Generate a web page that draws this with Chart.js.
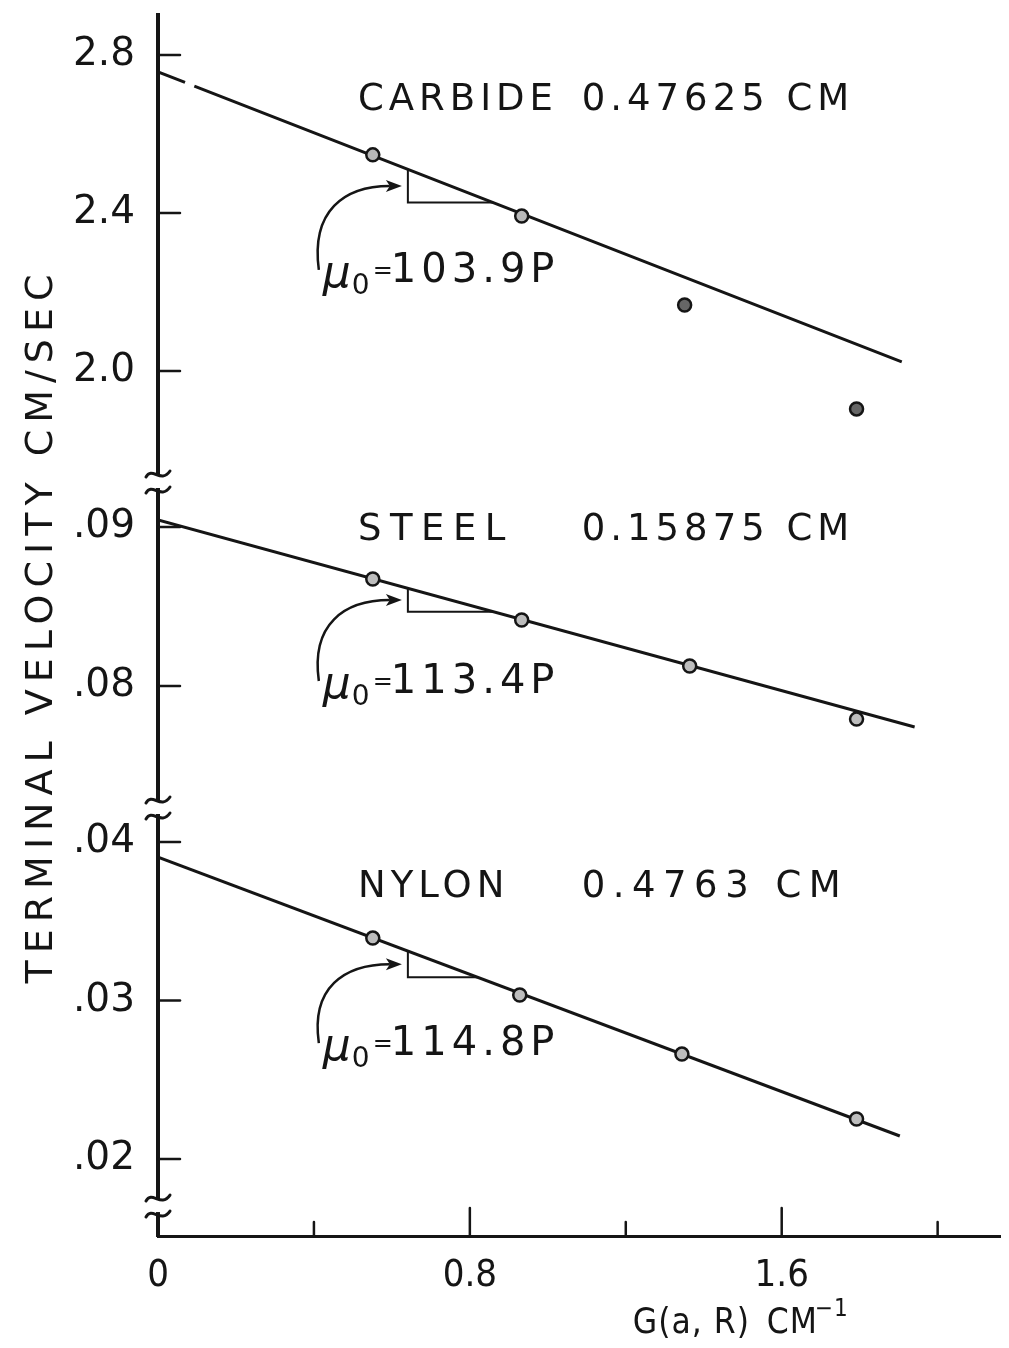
<!DOCTYPE html>
<html lang="en">
<head>
<meta charset="UTF-8">
<title>Terminal velocity vs G(a,R)</title>
<script src="https://cdn.jsdelivr.net/npm/chart.js"></script>
<style>
  html, body { margin: 0; padding: 0; background: #fff; }
  #wrap { width: 1009px; height: 1348px; }
</style>
</head>
<body>
<div id="wrap"><canvas id="velocityChart"></canvas></div>
<script>
// G(a,R) in 1/cm against terminal velocity in cm/sec
const carbideG = [0.551, 0.933, 1.351, 1.792];
const carbideV = [2.547, 2.392, 2.167, 1.904];
const carbideFitG = [0, 1.908];
const carbideFitV = [2.757, 2.023];

const steelG = [0.551, 0.933, 1.364, 1.792];
const steelV = [0.08673, 0.08415, 0.08126, 0.07792];
const steelFitG = [0, 1.941];
const steelFitV = [0.09044, 0.07742];

const nylonG = [0.551, 0.928, 1.344, 1.792];
const nylonV = [0.03394, 0.03035, 0.02662, 0.02252];
const nylonFitG = [0, 1.903];
const nylonFitV = [0.03905, 0.02145];

const xTicks = [0, 0.4, 0.8, 1.2, 1.6, 2.0];
const xTickLabels = ['0', '', '0.8', '', '1.6', ''];
const carbideTicks = [2.0, 2.4, 2.8];
const carbideTickLabels = ['2.0', '2.4', '2.8'];
const steelTicks = [0.08, 0.09];
const steelTickLabels = ['.08', '.09'];
const nylonTicks = [0.02, 0.03, 0.04];
const nylonTickLabels = ['.02', '.03', '.04'];

const materials = ['CARBIDE', 'STEEL', 'NYLON'];
const diameters = ['0.47625 CM', '0.15875 CM', '0.4763 CM'];
const viscosities = ['103.9P', '113.4P', '114.8P'];

const ink = '#151515';
const narrow = "'Liberation Sans Narrow', 'DejaVu Sans Condensed', 'DejaVu Sans'";
const pts = (xs, ys) => xs.map((x, i) => ({ x: x, y: ys[i] }));

const fit = (label, xs, ys, axis, dash) => ({
    label: label, data: pts(xs, ys), yAxisID: axis, showLine: true,
    borderColor: ink, borderWidth: 3, borderDash: dash || [], pointRadius: 0, order: 2
});
const dots = (label, xs, ys, axis, fill) => ({
    label: label, data: pts(xs, ys), yAxisID: axis,
    pointRadius: 6.5, pointBackgroundColor: fill, pointBorderColor: ink, pointBorderWidth: 2.5, order: 1
});

const noPad = s => { s.paddingTop = 0; s.paddingBottom = 0; s.paddingLeft = 0; s.paddingRight = 0; };

const yScale = (min, max, ticks, labels, weight, stackWeight) => ({
    type: 'linear', position: 'left', stack: 'v', stackWeight: stackWeight, weight: weight,
    min: min, max: max,
    afterBuildTicks: s => { s.ticks = ticks.map(v => ({ value: v })); },
    afterFit: s => { s.width = 158; noPad(s); },
    ticks: { callback: (v, i) => labels[i], color: ink, padding: 23, font: { family: 'DejaVu Sans', size: 39 } },
    grid: { display: false, drawTicks: false },
    border: { display: true, color: ink, width: 4 }
});

// hand-drawn bits: inward ticks, axis breaks, labels, slope triangles
const paperMarks = {
    id: 'paperMarks',
    afterDraw(chart) {
        const ctx = chart.ctx;
        const area = chart.chartArea;
        const sx = chart.scales.x;
        const yIds = ['yCarbide', 'ySteel', 'yNylon'];
        ctx.save();
        ctx.strokeStyle = ink;
        ctx.fillStyle = ink;
        ctx.lineCap = 'round';

        // inward ticks on the y axes
        ctx.lineWidth = 2.5;
        yIds.forEach(id => {
            const s = chart.scales[id];
            s.ticks.forEach(t => {
                const y = s.getPixelForValue(t.value);
                ctx.beginPath();
                ctx.moveTo(area.left, y);
                ctx.lineTo(area.left + 22, y);
                ctx.stroke();
            });
        });
        // inward ticks on the x axis
        sx.ticks.forEach((t, i) => {
            const x = sx.getPixelForValue(t.value);
            if (t.value === 0) return;
            const len = xTickLabels[i] ? 28 : 14;
            ctx.beginPath();
            ctx.moveTo(x, area.bottom);
            ctx.lineTo(x, area.bottom - len);
            ctx.stroke();
        });

        // axis breaks
        const breaks = [
            chart.scales.yCarbide.bottom,
            chart.scales.ySteel.bottom,
            chart.scales.yNylon.getPixelForValue(0.01703)
        ];
        breaks.forEach(yb => {
            const x = area.left;
            ctx.fillStyle = '#fff';
            ctx.fillRect(x - 4, yb - 6, 8, 12);
            ctx.fillStyle = ink;
            ctx.lineWidth = 3;
            [-8, 8].forEach(dy => {
                const y = yb + dy;
                ctx.beginPath();
                ctx.moveTo(x - 12, y + 3);
                ctx.bezierCurveTo(x - 6, y - 8, x + 3, y + 10, x + 12, y - 3);
                ctx.stroke();
            });
        });

        // y axis title
        ctx.save();
        ctx.translate(42, (area.top + area.bottom) / 2);
        ctx.rotate(-Math.PI / 2);
        ctx.font = "38px 'DejaVu Sans'";
        ctx.letterSpacing = '7px';
        ctx.textAlign = 'center';
        ctx.textBaseline = 'middle';
        ctx.fillText('TERMINAL VELOCITY CM/SEC', 0, 0);
        ctx.restore();

        // x axis title, set right of centre as in the original
        const tx = sx.getPixelForValue(1.218);
        const ty = area.bottom + 88;
        ctx.textAlign = 'left';
        ctx.textBaseline = 'middle';
        ctx.letterSpacing = '1px';
        ctx.font = '35px ' + narrow;
        ctx.fillText('G(a, R)', tx, ty);
        ctx.fillText('CM', tx + 134, ty);
        ctx.font = '24px ' + narrow;
        ctx.fillText('\u2212' + '1', tx + 182, ty - 14);
        ctx.letterSpacing = '0px';

        // material labels and viscosity notes
        const nameY = [2.684, 0.0898, 0.03716];
        const muY = [2.251, 0.08019, 0.02719];
        const triEnd = [0.86, 0.86, 0.82];
        const nameGap = [5, 8.5, 5];
        const sizeGap = [5, 5, 7.5];
        const fits = [[carbideFitG, carbideFitV], [steelFitG, steelFitV], [nylonFitG, nylonFitV]];
        yIds.forEach((id, k) => {
            const s = chart.scales[id];
            const fg = fits[k][0], fv = fits[k][1];
            const lineAt = g => fv[0] + (fv[1] - fv[0]) * (g - fg[0]) / (fg[1] - fg[0]);

            ctx.font = "37px 'DejaVu Sans'";
            ctx.textAlign = 'left';
            ctx.textBaseline = 'middle';
            ctx.letterSpacing = nameGap[k] + 'px';
            ctx.fillText(materials[k], sx.getPixelForValue(0.513), s.getPixelForValue(nameY[k]));
            ctx.letterSpacing = sizeGap[k] + 'px';
            ctx.fillText(diameters[k], sx.getPixelForValue(1.087), s.getPixelForValue(nameY[k]));

            // slope triangle
            const x1 = sx.getPixelForValue(0.641);
            const x2 = sx.getPixelForValue(triEnd[k]);
            const yTop = s.getPixelForValue(lineAt(0.641));
            const yBot = s.getPixelForValue(lineAt(triEnd[k]));
            ctx.lineWidth = 2;
            ctx.lineCap = 'butt';
            ctx.beginPath();
            ctx.moveTo(x1, yTop);
            ctx.lineTo(x1, yBot);
            ctx.lineTo(x2, yBot);
            ctx.stroke();

            // mu label
            const bx = sx.getPixelForValue(0.428);
            const cy = s.getPixelForValue(muY[k]);
            ctx.letterSpacing = '0px';
            ctx.textBaseline = 'alphabetic';
            ctx.font = "italic 44px 'DejaVu Sans'";
            ctx.fillText('\u03bc', bx - 2, cy + 15);
            ctx.font = "28px 'DejaVu Sans'";
            ctx.fillText('0', bx + 27, cy + 22);
            ctx.textBaseline = 'middle';
            ctx.font = "24px 'DejaVu Sans'";
            ctx.fillText('=', bx + 48, cy);
            ctx.font = "40px 'DejaVu Sans'";
            ctx.letterSpacing = '5px';
            ctx.fillText(viscosities[k], bx + 66, cy);
            ctx.letterSpacing = '0px';

            // curved arrow from the label to the triangle
            const tipX = x1 - 6;
            const tipY = yTop + 0.5 * (yBot - yTop);
            const sx0 = bx - 6, sy0 = cy - 2;
            ctx.lineWidth = 2.5;
            ctx.beginPath();
            ctx.moveTo(sx0, sy0);
            ctx.bezierCurveTo(sx0 - 8, sy0 - 0.7 * (sy0 - tipY), sx0 + 25, tipY, tipX - 12, tipY);
            ctx.stroke();
            ctx.beginPath();
            ctx.moveTo(tipX, tipY);
            ctx.lineTo(tipX - 16, tipY - 6);
            ctx.lineTo(tipX - 12, tipY);
            ctx.lineTo(tipX - 16, tipY + 6);
            ctx.closePath();
            ctx.fill();
        });
        ctx.restore();
    }
};

new Chart(document.getElementById('velocityChart'), {
    type: 'scatter',
    data: {
        datasets: [
            dots('Carbide', carbideG, carbideV, 'yCarbide', ['#b8b8b8', '#b8b8b8', '#666', '#666']),
            dots('Steel', steelG, steelV, 'ySteel', '#bdbdbd'),
            dots('Nylon', nylonG, nylonV, 'yNylon', '#bdbdbd'),
            fit('Carbide fit', carbideFitG, carbideFitV, 'yCarbide', [29, 10, 3000, 10]),
            fit('Steel fit', steelFitG, steelFitV, 'ySteel'),
            fit('Nylon fit', nylonFitG, nylonFitV, 'yNylon')
        ]
    },
    options: {
        responsive: true,
        maintainAspectRatio: false,
        animation: false,
        devicePixelRatio: 1,
        layout: { padding: { top: 15, right: 9, left: 0, bottom: 0 } },
        plugins: { legend: { display: false }, tooltip: { enabled: false } },
        scales: {
            x: {
                type: 'linear', min: 0, max: 2.16,
                afterBuildTicks: s => { s.ticks = xTicks.map(v => ({ value: v })); },
                afterFit: s => { s.height = 112; noPad(s); },
                ticks: { callback: (v, i) => xTickLabels[i], color: ink, padding: 17, maxRotation: 0, autoSkip: false,
                         font: { family: narrow, size: 38 } },
                grid: { display: false, drawTicks: false },
                border: { display: true, color: ink, width: 3 },
                title: { display: false }
            },
            yCarbide: yScale(1.719, 2.901, carbideTicks, carbideTickLabels, 3, 467),
            ySteel: yScale(0.07233, 0.09283, steelTicks, steelTickLabels, 2, 326),
            yNylon: yScale(0.01514, 0.04215, nylonTicks, nylonTickLabels, 1, 428)
        }
    },
    plugins: [paperMarks]
});
</script>
</body>
</html>
